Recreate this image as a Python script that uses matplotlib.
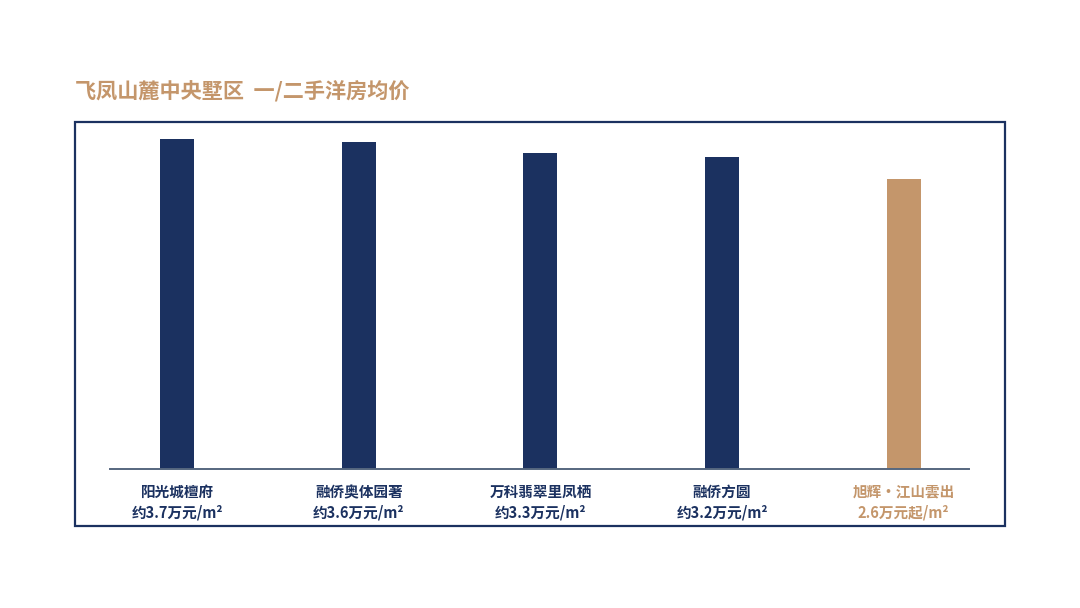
import matplotlib.pyplot as plt
from matplotlib.patches import Rectangle

plt.rcParams['font.family'] = ['Noto Sans CJK SC', 'DejaVu Sans']

# data
projects = ['阳光城檀府', '融侨奥体园著', '万科翡翠里凤栖', '融侨方圆', '旭辉·江山雲出']
prices = [3.7, 3.6, 3.3, 3.2, 2.6]  # 万元/m²
price_labels = ['约3.7万元/m²', '约3.6万元/m²', '约3.3万元/m²', '约3.2万元/m²', '2.6万元起/m²']
highlight = [False, False, False, False, True]

navy = '#1b3160'
gold = '#c4966b'
base = -5.3  # axis does not start at zero

fig = plt.figure(figsize=(10.8, 6.08), dpi=100)
fig.patch.set_facecolor('white')

W, H = 1080, 608
ax = fig.add_axes([110 / W, 1 - 469 / H, (969 - 110) / W, (469 - 130) / H])

x = list(range(len(projects)))
colors = [gold if h else navy for h in highlight]
ax.bar(x, [p - base for p in prices], bottom=base, width=0.187, color=colors, zorder=2)

ax.set_xlim(-0.37, 4.36)
ax.set_ylim(base, base + 9.24)
for s in ['top', 'right', 'left']:
    ax.spines[s].set_visible(False)
ax.spines['bottom'].set_color('#56677f')
ax.spines['bottom'].set_linewidth(1.4)
ax.set_yticks([])
ax.set_xticks([])

# two-line category labels under the bars
for i, (name, lab, h) in enumerate(zip(projects, price_labels, highlight)):
    c = gold if h else navy
    ax.annotate(name, xy=(i, 0), xycoords=('data', 'axes fraction'),
                xytext=(0, -16.5), textcoords='offset points', ha='center', va='center',
                fontsize=10.5, fontweight='bold', color=c)
    ax.annotate(lab, xy=(i, 0), xycoords=('data', 'axes fraction'),
                xytext=(0, -31), textcoords='offset points', ha='center', va='center',
                fontsize=10.5, fontweight='bold', color=c)

# outer frame
fig.patches.append(Rectangle((75 / W, 1 - 526 / H), (1005 - 75) / W, (526 - 122) / H,
                             transform=fig.transFigure, fill=False,
                             edgecolor=navy, linewidth=1.6))

fig.text(75 / W, 1 - 92 / H, '飞凤山麓中央墅区  一/二手洋房均价', ha='left', va='center',
         fontsize=15.2, fontweight='bold', color=gold)

fig.savefig('out.png', dpi=100)
